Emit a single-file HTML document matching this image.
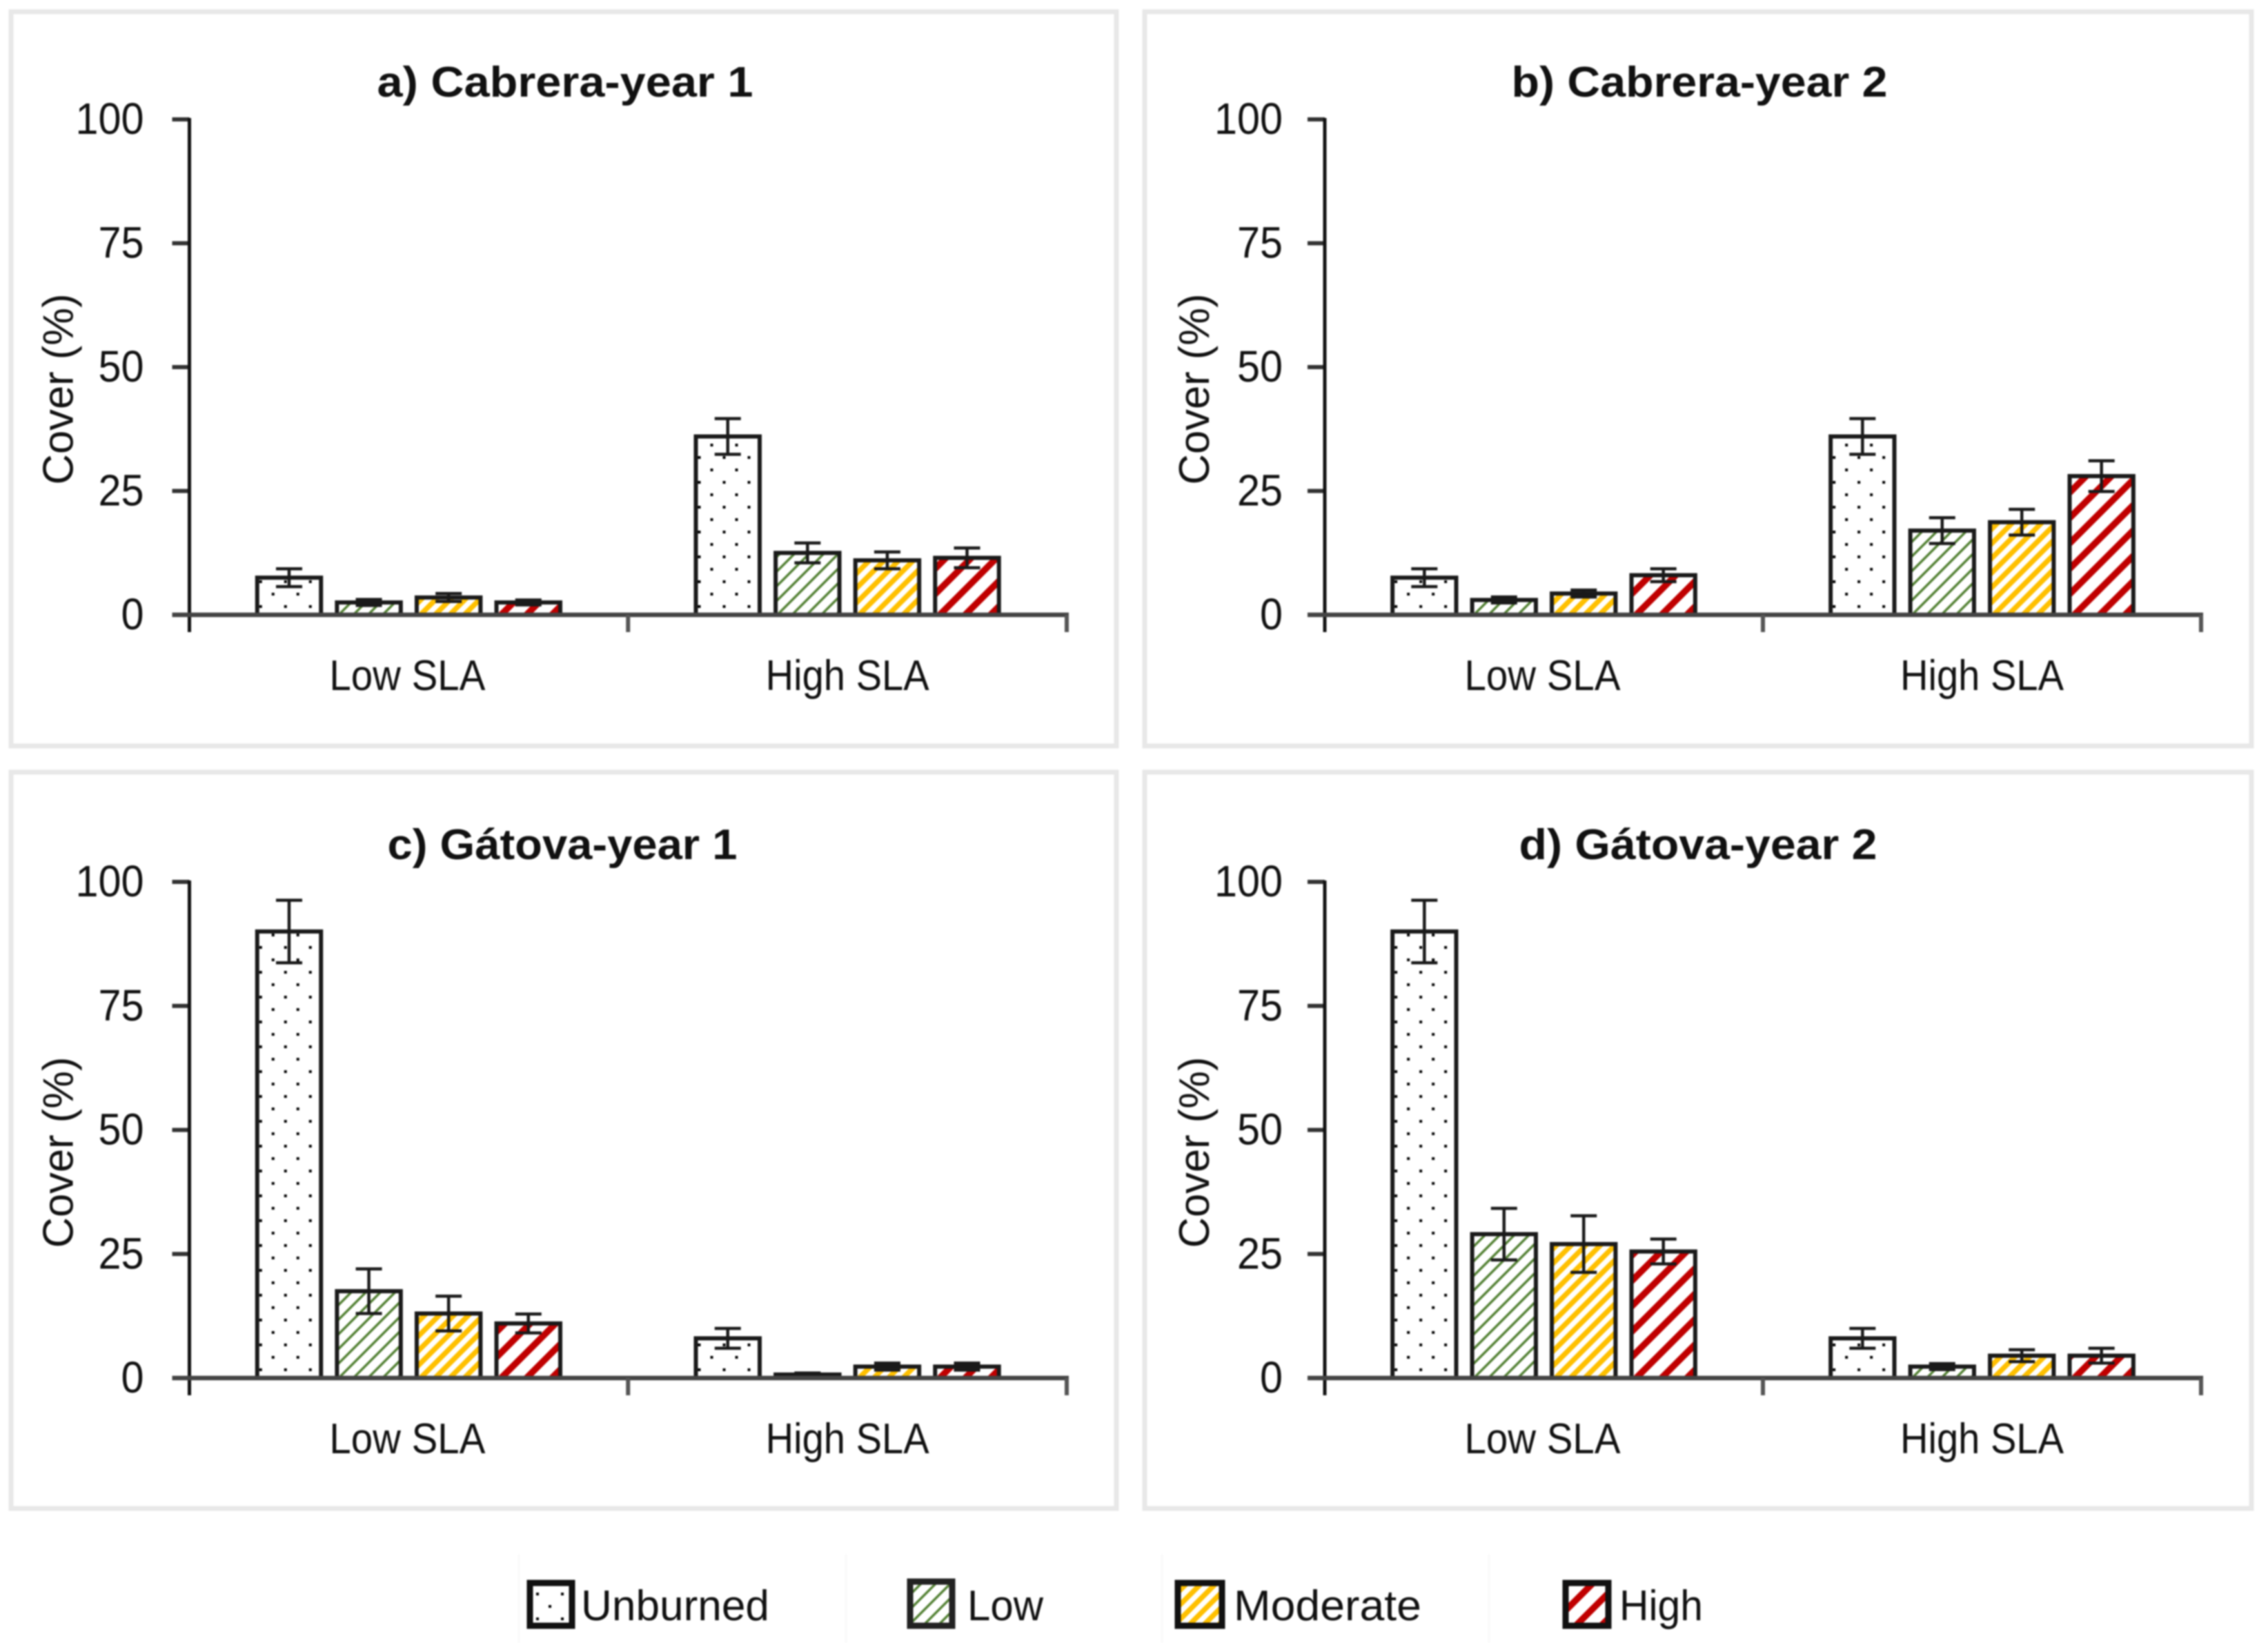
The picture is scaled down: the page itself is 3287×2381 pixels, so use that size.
<!DOCTYPE html>
<html lang="en">
<head>
<meta charset="utf-8">
<title>Cover by SLA and burn severity</title>
<style>
html,body{margin:0;padding:0;background:#fff;}
svg{display:block;filter:blur(1px);}
text{font-family:"Liberation Sans",sans-serif;fill:#111;}
</style>
</head>
<body>
<svg id="figure" xmlns="http://www.w3.org/2000/svg" width="3287" height="2381" viewBox="0 0 3287 2381">
  <defs>
    <pattern id="fill-unburned" patternUnits="userSpaceOnUse" width="36" height="36" x="5" y="-12">
      <rect width="36" height="36" fill="#fff"/>
      <rect x="-2" y="-2" width="4" height="4" fill="#000"/>
      <rect x="34" y="-2" width="4" height="4" fill="#000"/>
      <rect x="-2" y="34" width="4" height="4" fill="#000"/>
      <rect x="34" y="34" width="4" height="4" fill="#000"/>
      <rect x="16" y="16" width="4" height="4" fill="#000"/>
    </pattern>
    <pattern id="fill-low" patternUnits="userSpaceOnUse" width="15" height="15" patternTransform="rotate(45)">
      <rect width="15" height="15" fill="#fff"/>
      <rect width="3.5" height="15" fill="#548235"/>
    </pattern>
    <pattern id="fill-moderate" patternUnits="userSpaceOnUse" width="15" height="15" patternTransform="rotate(45)">
      <rect width="15" height="15" fill="#fff"/>
      <rect width="7.5" height="15" fill="#ffc000"/>
    </pattern>
    <pattern id="fill-high" patternUnits="userSpaceOnUse" width="26" height="26" patternTransform="rotate(45)">
      <rect width="26" height="26" fill="#fff"/>
      <rect width="9.5" height="26" fill="#c00000"/>
    </pattern>
  </defs>
  <rect width="3287" height="2381" fill="#fff"/>
  <g id="panels"></g>

  <g>
    <line x1="752" y1="2253" x2="752" y2="2381" stroke="#fafafa" stroke-width="3"/>
    <line x1="1226" y1="2253" x2="1226" y2="2381" stroke="#fafafa" stroke-width="3"/>
    <line x1="1684" y1="2253" x2="1684" y2="2381" stroke="#fafafa" stroke-width="3"/>
    <line x1="2158" y1="2253" x2="2158" y2="2381" stroke="#fafafa" stroke-width="3"/>
    <g>
      <rect x="768" y="2294" width="61" height="62" fill="url(#fill-unburned)" stroke="#111" stroke-width="9"/>
      <text x="842" y="2348" font-size="62" textLength="273" lengthAdjust="spacingAndGlyphs">Unburned</text>
    </g>
    <g>
      <rect x="1319" y="2292" width="61" height="64" fill="url(#fill-low)" stroke="#222" stroke-width="9"/>
      <text x="1402" y="2348" font-size="62" textLength="110" lengthAdjust="spacingAndGlyphs">Low</text>
    </g>
    <g>
      <rect x="1707" y="2294" width="64" height="62" fill="url(#fill-moderate)" stroke="#111" stroke-width="9"/>
      <text x="1788" y="2348" font-size="62" textLength="272" lengthAdjust="spacingAndGlyphs">Moderate</text>
    </g>
    <g>
      <rect x="2269" y="2294" width="62" height="62" fill="url(#fill-high)" stroke="#111" stroke-width="9"/>
      <text x="2347" y="2348" font-size="62" textLength="121" lengthAdjust="spacingAndGlyphs">High</text>
    </g>
  </g>
</svg>
<script>
const categories = ["Low SLA", "High SLA"];
const severities = ["unburned", "low", "moderate", "high"];
const yTickValues = [0, 25, 50, 75, 100];
const yAxisLabel = "Cover (%)";

const panelTitles = ["a) Cabrera-year 1", "b) Cabrera-year 2", "c) Gátova-year 1", "d) Gátova-year 2"];

const coverCabreraYear1 = [[7.5, 2.5, 3.5, 2.5], [36, 12.5, 11, 11.5]];
const errorCabreraYear1 = [[1.8, 0.6, 0.8, 0.5], [3.6, 2, 1.7, 2]];

const coverCabreraYear2 = [[7.5, 3, 4.3, 8], [36, 17, 18.7, 28]];
const errorCabreraYear2 = [[1.8, 0.6, 0.7, 1.3], [3.6, 2.6, 2.6, 3.1]];

const coverGatovaYear1 = [[90, 17.5, 13, 11], [8, 0.7, 2.3, 2.3]];
const errorGatovaYear1 = [[6.3, 4.5, 3.5, 1.9], [2, 0.3, 0.7, 0.7]];

const coverGatovaYear2 = [[90, 29, 27, 25.5], [8, 2.3, 4.5, 4.5]];
const errorGatovaYear2 = [[6.3, 5.2, 5.7, 2.5], [2, 0.6, 1.2, 1.5]];

const panelCovers = [coverCabreraYear1, coverCabreraYear2, coverGatovaYear1, coverGatovaYear2];
const panelErrors = [errorCabreraYear1, errorCabreraYear2, errorGatovaYear1, errorGatovaYear2];

const SVG_NS = "http://www.w3.org/2000/svg";
const root = document.getElementById("panels");

function make(tag, parent, attrs, content) {
  const node = document.createElementNS(SVG_NS, tag);
  for (const key in attrs) node.setAttribute(key, attrs[key]);
  if (content !== undefined) node.textContent = content;
  parent.appendChild(node);
  return node;
}

function panelFrame(index) {
  const col = index % 2;
  const row = index < 2 ? 0 : 1;
  return {
    col: col,
    left: col === 0 ? 16 : 1659,
    right: col === 0 ? 1618 : 3263,
    top: row === 0 ? 17 : 1119,
    bottom: row === 0 ? 1081 : 2186,
    axisX: col === 0 ? 274.5 : 1920,
    axisEnd: col === 0 ? 1546 : 3190,
    yTop: row === 0 ? 173 : 1278,
    yBase: row === 0 ? 891 : 1997
  };
}

const titleWidths = [545, 545, 507, 519];
const titleOffsets = [544.5, 543, 540.5, 541];

panelTitles.forEach(function (title, p) {
  const f = panelFrame(p);
  const yScale = function (v) { return f.yBase - (v / 100) * (f.yBase - f.yTop); };
  const catWidth = (f.axisEnd - f.axisX) / categories.length;
  const pitch = catWidth / 5.5;
  const barWidth = pitch * 0.8;

  const panel = make("g", root, {});
  
  

  const frame = make("rect", panel, {
    x: f.left, y: f.top, width: f.right - f.left, height: f.bottom - f.top,
    fill: "#fff", stroke: "#e8e8e8", "stroke-width": 7
  });
  
  

  const titleText = make("text", panel, {
    x: f.axisX + titleOffsets[p], y: f.yTop - 33, "font-size": 62, "font-weight": "bold",
    "text-anchor": "middle", textLength: titleWidths[p], lengthAdjust: "spacingAndGlyphs", fill: "#111"
  }, title);
  
  

  yTickValues.forEach(function (tick) {
    const tickMark = make("line", panel, {
      x1: f.axisX - 25, x2: f.axisX, y1: yScale(tick), y2: yScale(tick), stroke: "#333", "stroke-width": 6
    });
    
    
    const tickLabel = make("text", panel, {
      x: f.axisX - (f.col === 0 ? 66 : 61), y: yScale(tick) + 21, "font-size": 64, "text-anchor": "end",
      textLength: String(tick).length * 33, lengthAdjust: "spacingAndGlyphs"
    }, String(tick));
    
    
  });

  const yTitleY = f.yBase - 327;
  const yTitle = make("text", panel, {
    x: 0, y: 0, "font-size": 62, "text-anchor": "middle",
    textLength: 277, lengthAdjust: "spacingAndGlyphs",
    transform: "translate(" + (f.axisX - (f.col === 0 ? 169 : 168)) + "," + yTitleY + ") rotate(-90)"
  }, yAxisLabel);
  
  

  categories.forEach(function (category, c) {
    const center = f.axisX + catWidth * (c + 0.5);
    severities.forEach(function (severity, s) {
      const value = panelCovers[p][c][s];
      const error = panelErrors[p][c][s];
      const barLeft = center + (s - 1.5) * pitch - barWidth / 2;
      const barTop = yScale(value);

      const bar = make("rect", panel, {
        x: 0, y: barTop - f.yBase, width: barWidth, height: f.yBase - barTop,
        transform: "translate(" + barLeft + "," + f.yBase + ")",
        fill: "url(#fill-" + severity + ")", stroke: "#1a1a1a", "stroke-width": 6
      });
      
      

      const barCenter = barLeft + barWidth / 2;
      const whisker = make("line", panel, {
        x1: barCenter, x2: barCenter, y1: yScale(value + error), y2: yScale(value - error),
        stroke: "#1a1a1a", "stroke-width": 4.5
      });
      
      

      [value + error, value - error].forEach(function (capValue) {
        const cap = make("line", panel, {
          x1: barCenter - 19, x2: barCenter + 19, y1: yScale(capValue), y2: yScale(capValue),
          stroke: "#1a1a1a", "stroke-width": 4.5
        });
        
        
      });
    });

    const catLabel = make("text", panel, {
      x: center + (c === 0 ? -2 : 0), y: f.yBase + 109, "font-size": 62, "text-anchor": "middle",
      textLength: c === 0 ? 226 : 237, lengthAdjust: "spacingAndGlyphs"
    }, category);
    
    
  });

  const yAxis = make("line", panel, {
    x1: f.axisX, x2: f.axisX, y1: f.yTop - 2, y2: f.yBase + 25, stroke: "#111", "stroke-width": 5
  });
  
  

  const xAxis = make("line", panel, {
    x1: f.axisX - 25, x2: f.axisEnd + 3, y1: f.yBase, y2: f.yBase, stroke: "#444", "stroke-width": 6.5
  });
  
  

  for (let c = 1; c <= categories.length; c++) {
    const divider = make("line", panel, {
      x1: f.axisX + catWidth * c, x2: f.axisX + catWidth * c,
      y1: f.yBase, y2: f.yBase + 25, stroke: "#555", "stroke-width": 6
    });
    
    
  }
});
</script>
</body>
</html>
